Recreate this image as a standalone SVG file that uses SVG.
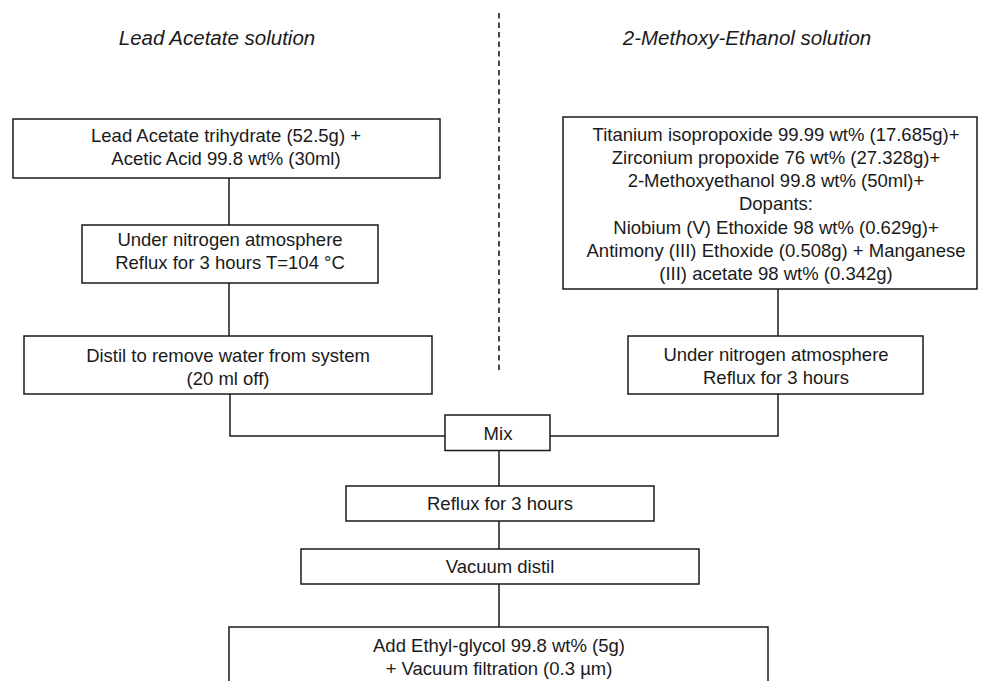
<svg xmlns="http://www.w3.org/2000/svg" width="987" height="681" viewBox="0 0 987 681">
<style>
.box{fill:#fff;stroke:#1a1a1a;stroke-width:1.5}
.t{font-family:"Liberation Sans",Arial,sans-serif;font-size:18.5px;fill:#1a1a1a;text-anchor:middle}
.h{font-family:"Liberation Sans",Arial,sans-serif;font-size:20.5px;font-style:italic;fill:#1a1a1a;text-anchor:middle}
.c{fill:none;stroke:#1a1a1a;stroke-width:1.5}
.d{fill:none;stroke:#1a1a1a;stroke-width:1.6;stroke-dasharray:5.5 4}
</style>
<rect width="987" height="681" fill="#fff"/>
<g id="headers">
<text class="h" x="217" y="45">Lead Acetate solution</text>
<text class="h" x="747" y="45">2-Methoxy-Ethanol solution</text>
<line class="d" x1="499" y1="13" x2="499" y2="373"/>
</g>
<g id="connectors">
<path class="c" d="M229 178V225"/>
<path class="c" d="M229 283V336"/>
<path class="c" d="M230 394V436H445"/>
<path class="c" d="M778 289V336"/>
<path class="c" d="M778 394V436H550"/>
<path class="c" d="M499 450V486"/>
<path class="c" d="M499 521V549"/>
<path class="c" d="M499 584V627"/>
</g>
<g id="lead-acetate">
<rect class="box" x="13" y="119" width="427" height="59"/>
<text class="t" x="226" y="142">Lead Acetate trihydrate (52.5g) +</text>
<text class="t" x="226" y="165">Acetic Acid 99.8 wt% (30ml)</text>
</g>
<g id="reflux-left">
<rect class="box" x="82" y="225" width="296" height="58"/>
<text class="t" x="230" y="246">Under nitrogen atmosphere</text>
<text class="t" x="230" y="269">Reflux for 3 hours T=104 °C</text>
</g>
<g id="distil">
<rect class="box" x="24" y="336" width="408" height="58"/>
<text class="t" x="228" y="362">Distil to remove water from system</text>
<text class="t" x="228" y="385">(20 ml off)</text>
</g>
<g id="methoxy">
<rect class="box" x="563" y="117" width="414" height="172"/>
<text class="t" x="776" y="141">Titanium isopropoxide 99.99 wt% (17.685g)+</text>
<text class="t" x="776" y="164">Zirconium propoxide 76 wt% (27.328g)+</text>
<text class="t" x="776" y="187">2-Methoxyethanol 99.8 wt% (50ml)+</text>
<text class="t" x="776" y="210">Dopants:</text>
<text class="t" x="776" y="234">Niobium (V) Ethoxide 98 wt% (0.629g)+</text>
<text class="t" x="776" y="257">Antimony (III) Ethoxide (0.508g) + Manganese</text>
<text class="t" x="776" y="280">(III) acetate 98 wt% (0.342g)</text>
</g>
<g id="reflux-right">
<rect class="box" x="628" y="336" width="295" height="58"/>
<text class="t" x="776" y="361">Under nitrogen atmosphere</text>
<text class="t" x="776" y="384">Reflux for 3 hours</text>
</g>
<g id="mix">
<rect class="box" x="445" y="415" width="105" height="35.5"/>
<text class="t" x="498" y="440">Mix</text>
</g>
<g id="reflux">
<rect class="box" x="346" y="486" width="308" height="35"/>
<text class="t" x="500" y="510">Reflux for 3 hours</text>
</g>
<g id="vacuum-distil">
<rect class="box" x="301" y="549" width="398" height="35"/>
<text class="t" x="500" y="573">Vacuum distil</text>
</g>
<g id="ethyl-glycol">
<rect class="box" x="229" y="627" width="539" height="70"/>
<text class="t" x="499" y="652">Add Ethyl-glycol 99.8 wt% (5g)</text>
<text class="t" x="499" y="675">+ Vacuum filtration (0.3 µm)</text>
</g>
</svg>
